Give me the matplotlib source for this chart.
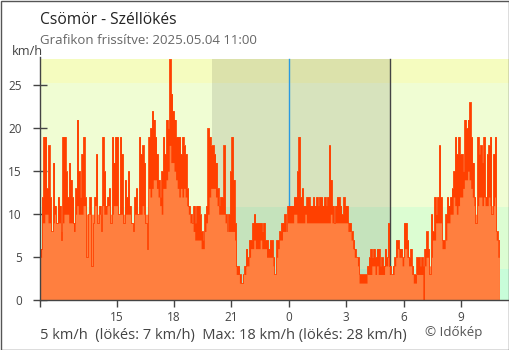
import numpy as np
import matplotlib
matplotlib.use("Agg")
import matplotlib.pyplot as plt
from matplotlib.patches import Rectangle

plt.rcParams['font.family'] = ['Open Sans', 'DejaVu Sans']

# 5-minute values from 11:00 to 11:00 next day (one row = one hour)
gust_kmh = [
    6, 12, 19, 19, 13, 18, 12, 8, 16, 11, 9, 12,
    11, 7, 19, 19, 15, 12, 16, 14, 12, 9, 13, 21,
    15, 12, 17, 19, 12, 5, 10, 12, 4, 9, 12, 17,
    9, 11, 8, 19, 15, 11, 12, 13, 9, 19, 16, 19,
    19, 10, 19, 17, 9, 14, 12, 15, 11, 9, 8, 12,
    13, 10, 19, 17, 18, 16, 9, 6, 19, 20, 22, 21,
    19, 17, 14, 12, 15, 19, 17, 21, 20, 28, 24, 22,
    21, 19, 19, 19, 17, 19, 18, 17, 13, 11, 10, 9,
    11, 9, 11, 11, 10, 8, 7, 10, 11, 20, 19, 18,
    18, 17, 16, 13, 11, 12, 12, 18, 10, 8, 10, 15,
    19, 14, 9, 4, 4, 3, 2, 3, 4, 6, 5, 7,
    7, 9, 10, 9, 9, 9, 9, 8, 9, 7, 7, 6,
    7, 7, 5, 3, 7, 7, 8, 9, 9, 10, 8, 11,
    11, 11, 11, 12, 12, 15, 19, 12, 13, 11, 11, 12,
    12, 11, 11, 12, 11, 12, 11, 12, 12, 11, 12, 11,
    12, 18, 14, 11, 9, 11, 12, 12, 11, 10, 12, 11,
    11, 9, 9, 8, 7, 6, 5, 5, 3, 3, 3, 3,
    3, 4, 5, 6, 5, 6, 5, 6, 6, 4, 5, 4,
    6, 5, 9, 4, 3, 4, 5, 7, 7, 6, 6, 5,
    9, 9, 7, 5, 6, 4, 3, 3, 5, 5, 4, 5,
    4, 6, 8, 6, 3, 10, 8, 12, 10, 12, 18, 12,
    7, 7, 10, 12, 11, 12, 13, 15, 19, 17, 19, 17,
    17, 15, 21, 20, 21, 23, 19, 16, 12, 9, 19, 17,
    18, 16, 19, 12, 17, 18, 19, 10, 17, 19, 8, 7,
]
speed_kmh = [
    5, 9, 9, 10, 10, 9, 9, 8, 9, 10, 9, 9,
    9, 8, 9, 10, 10, 10, 9, 9, 9, 8, 10, 11,
    10, 10, 10, 11, 11, 10, 10, 10, 10, 10, 11, 11,
    10, 10, 10, 11, 10, 10, 11, 11, 10, 10, 11, 11,
    11, 10, 10, 10, 10, 10, 10, 10, 10, 9, 9, 10,
    10, 10, 10, 10, 11, 10, 10, 10, 13, 12, 13, 14,
    14, 13, 12, 11, 10, 13, 13, 14, 15, 18, 16, 16,
    15, 14, 13, 12, 13, 12, 13, 12, 11, 10, 9, 9,
    8, 7, 7, 7, 7, 6, 6, 8, 9, 10, 12, 13,
    13, 13, 12, 11, 10, 10, 10, 10, 9, 8, 8, 8,
    8, 8, 7, 3, 3, 2, 2, 3, 3, 4, 4, 5,
    6, 6, 7, 6, 6, 6, 7, 6, 6, 6, 5, 5,
    5, 5, 4, 3, 5, 6, 7, 7, 8, 8, 8, 9,
    9, 9, 9, 10, 10, 9, 9, 9, 9, 9, 10, 9,
    9, 9, 9, 9, 9, 9, 9, 9, 9, 9, 9, 9,
    9, 9, 10, 9, 9, 9, 9, 9, 9, 9, 9, 9,
    9, 8, 8, 7, 6, 5, 5, 4, 2, 2, 2, 2,
    2, 3, 3, 3, 4, 4, 3, 4, 3, 3, 3, 3,
    4, 4, 5, 3, 3, 3, 4, 5, 6, 5, 5, 4,
    6, 6, 5, 4, 4, 3, 2, 2, 3, 3, 3, 3,
    0, 4, 5, 5, 4, 5, 7, 7, 9, 9, 9, 9,
    6, 6, 7, 9, 9, 10, 10, 12, 11, 10, 11, 12,
    12, 13, 14, 14, 15, 14, 13, 12, 11, 10, 11, 12,
    12, 11, 12, 11, 11, 12, 11, 11, 11, 12, 7, 5,
]

# background bands (km/h limits) and their colours
band_edges = [0, 3.6, 10.8, 25.2, 28]
band_colors = ['#c8fdd9', '#dcfdd2', '#f0fdd3', '#f5fcbf']

tick_pos = [4, 7, 10, 13, 16, 19, 22]      # hours after 11:00
tick_lab = ['15', '18', '21', '0', '3', '6', '9']
night = (8.97, 18.28)
midnight = 13

fig = plt.figure(figsize=(5.1, 3.5), dpi=100)
ax = fig.add_axes([40 / 510, 49.7 / 350, 469 / 510, 243.6 / 350])

for lo, hi, c in zip(band_edges[:-1], band_edges[1:], band_colors):
    ax.axhspan(lo, hi, color=c, lw=0, zorder=0)
ax.axvspan(night[0], night[1], ymax=28 / 28.3, color='black', alpha=0.1, lw=0, zorder=1)
ax.axvline(midnight, ymax=28 / 28.3, color='#2a9ae0', lw=1, zorder=2)
ax.axvline(night[1], ymax=28 / 28.3, color='#444444', lw=1, zorder=2)

n = len(gust_kmh)
t = np.arange(n + 1) / 12.0
g = np.append(gust_kmh, gust_kmh[-1])
s = np.append(speed_kmh, speed_kmh[-1])
ax.fill_between(t, 0, g, step='post', color='#ff4000', lw=0, zorder=3)
ax.fill_between(t, 0, s, step='post', color='#ff7f3f', lw=0, zorder=4)
ax.step(t, g, where='post', color='#ff4000', lw=0.6, zorder=5)

ax.set_xlim(0, 24.5)
ax.set_ylim(0, 28.3)
ax.set_yticks([0, 5, 10, 15, 20, 25])
ax.set_xticks(tick_pos)
ax.set_xticklabels(tick_lab)
ax.set_xticks([0], minor=True)
for sp in ['top', 'right']:
    ax.spines[sp].set_visible(False)
for sp in ['left', 'bottom']:
    ax.spines[sp].set_color('#444444')
    ax.spines[sp].set_linewidth(1.0)
    ax.spines[sp].set_zorder(6)
ax.tick_params(axis='y', direction='inout', length=10, width=1, color='#444444',
               labelsize=8.5, labelcolor='#444444', pad=8)
ax.tick_params(axis='x', which='both', direction='out', length=5, width=1, color='#444444',
               labelsize=8.5, labelcolor='#444444', pad=3)
ax.get_xticklines()[6].set_color('#2a9ae0')

title = fig.text(40 / 510, 1 - 24 / 350, 'Csömör - Széllökés', fontsize=12, color='#222222')
sub = fig.text(40 / 510, 1 - 44.5 / 350, 'Grafikon frissítve: 2025.05.04 11:00', fontsize=9, color='#666666')
unit = fig.text(12 / 510, 1 - 55 / 350, 'km/h', fontsize=8.8, color='#444444')
foot = fig.text(40 / 510, 1 - 338.5 / 350, '5 km/h  (lökés: 7 km/h)  Max: 18 km/h (lökés: 28 km/h)',
                fontsize=10, color='#444444')
credit = fig.text(425 / 510, 1 - 336 / 350, '© Időkép', fontsize=10, color='#555555')

# scale each text so it spans the wanted width in pixels
renderer = fig.canvas.get_renderer()
for txt, width_px in [(title, 136), (sub, 217), (unit, 31), (foot, 367), (credit, 57)]:
    w = txt.get_window_extent(renderer).width
    txt.set_fontsize(txt.get_fontsize() * width_px / w)

fig.patches.append(Rectangle((0.5 / 510, 0.5 / 350), 509 / 510, 349 / 350, transform=fig.transFigure,
                             fill=False, edgecolor='#555555', lw=1))

fig.savefig('out.png', dpi=100)
